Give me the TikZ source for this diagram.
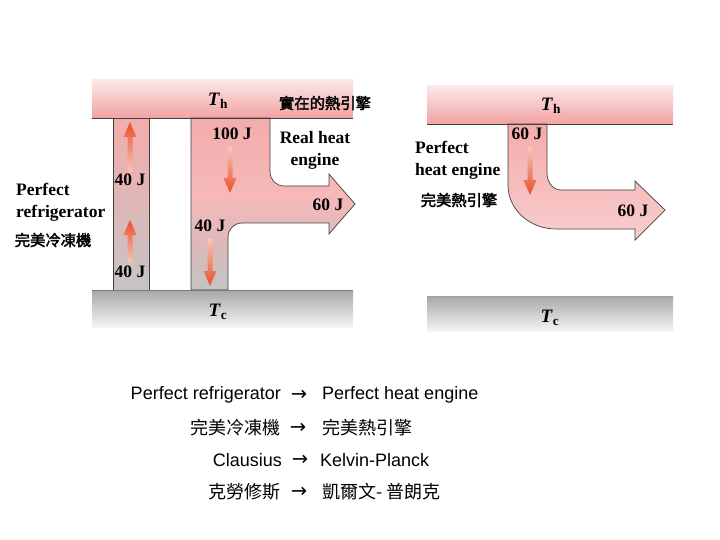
\documentclass[tikz,border=0pt]{standalone}
\usepackage{fontspec}
\setmainfont{Liberation Serif}
\newfontfamily\arialf{Liberation Sans}
\newfontfamily\cjkr{Noto Sans CJK TC}
\newfontfamily\cjkb[FakeBold=2.5]{Noto Sans CJK TC}
\newfontfamily\symf{DejaVu Sans}
\usetikzlibrary{arrows.meta}
\definecolor{hotA}{HTML}{FCE8E8}
\definecolor{hotB}{HTML}{F2A2A2}
\definecolor{coldA}{HTML}{A8A8A8}
\definecolor{coldB}{HTML}{F4F4F4}
\definecolor{pinkE}{HTML}{F4ACAC}
\definecolor{greyE}{HTML}{C4C4C4}
\definecolor{redA}{HTML}{E8502A}
\definecolor{redT}{HTML}{F8C6BA}
\definecolor{edge}{HTML}{404040}
\pgfdeclareverticalshading{enginesh}{100bp}{color(0bp)=(greyE); color(25bp)=(greyE); color(37bp)=(greyE!55!pinkE); color(52bp)=(pinkE!85!white); color(75bp)=(pinkE); color(100bp)=(pinkE)}
\pgfdeclareverticalshading{fridgesh}{100bp}{color(0bp)=(greyE); color(25bp)=(greyE); color(50bp)=(greyE!45!pinkE); color(75bp)=(pinkE); color(100bp)=(pinkE)}
\tikzset{
  lbl/.style={font=\bfseries\fontsize{17.5}{22}\selectfont, inner sep=0pt, align=center},
  tlbl/.style={font=\bfseries\fontsize{19}{22}\selectfont, inner sep=0pt},
  cjklbl/.style={font=\cjkb\fontsize{15.3}{18}\selectfont, inner sep=0pt},
  btxt/.style={font=\arialf\fontsize{18}{22}\selectfont, inner sep=0pt},
  bcjk/.style={font=\cjkr\fontsize{18}{22}\selectfont, inner sep=0pt},
  barrow/.style={font=\symf\fontsize{19.5}{22}\selectfont, inner sep=0pt},
  outline/.style={draw=edge, line width=0.7pt},
  pics/dnarrow/.style={code={\shade[top color=redT, bottom color=redA] (-2.5,0) -- (2.5,0) -- (2.5,#1-15) -- (6.5,#1-15) -- (0,#1) -- (-6.5,#1-15) -- (-2.5,#1-15) -- cycle;}},
  pics/uparrow/.style={code={\shade[top color=redA, bottom color=redT] (-2.5,0) -- (2.5,0) -- (2.5,-#1+15) -- (6.5,-#1+15) -- (0,-#1) -- (-6.5,-#1+15) -- (-2.5,-#1+15) -- cycle;}},
}
\begin{document}
\begin{tikzpicture}[x=1pt,y=-1pt]
\useasboundingbox (0,0) rectangle (720,540);
% ---------- left panel ----------
\shade[top color=hotA, bottom color=hotB] (92,80) rectangle (353,118);
\shade[top color=coldA, bottom color=coldB] (92,290) rectangle (353,327);
% refrigerator column
\shade[shading=fridgesh] (113,118) rectangle (149,290);
\draw[outline] (113,118) -- (113,290) (149,118) -- (149,290);
% real engine
\path[shading=enginesh, outline]
  (191,118) -- (270,118) -- (270,172) to[out=-90,in=180] (284,186) -- (329,186)
  -- (329,174) -- (355,204) -- (329,234) -- (329,223) -- (242,223)
  to[out=180,in=90] (228,237) -- (228,290) -- (191,290) -- cycle;
\draw[edge, line width=0.9pt] (92,118) -- (353,118);
\draw[edge!70, line width=0.9pt] (92,290) -- (353,290);
\pic at (130,172) {uparrow=50};
\pic at (130,263) {uparrow=43};
\pic at (230,147) {dnarrow=46};
\pic at (210,239) {dnarrow=47};
\node[tlbl] (thL) at (218,101) {\textit{T}\textsubscript{h}};
\node[tlbl] (tcL) at (218,312) {\textit{T}\textsubscript{c}};
\node[cjklbl] (real) at (325,103) {實在的熱引擎};
\node[lbl] (q100) at (232,134) {100 J};
\node[lbl] (realtxt) at (315,150) {Real heat\\engine};
\node[lbl] (w60L) at (328,205) {60 J};
\node[lbl] (q40c) at (210,226) {40 J};
\node[lbl] (f40a) at (130,180) {40 J};
\node[lbl] (f40b) at (130,272) {40 J};
\node[lbl, anchor=west, align=left] (pref) at (16,202) {Perfect\\refrigerator};
\node[cjklbl] (prefc) at (53,240) {完美冷凍機};
% ---------- right panel ----------
\shade[top color=hotA, bottom color=hotB] (427,86) rectangle (673,124);
\shade[top color=coldA, bottom color=coldB] (427,296) rectangle (673,331);
\path[top color=pinkE, bottom color=pinkE!60!white, outline]
  (508,124) -- (547,124) -- (547,173) to[out=-90,in=180] (561,190) -- (635,190)
  -- (635,181) -- (665,210) -- (635,240) -- (635,229) -- (556,229)
  to[out=180,in=-90] (508,185) -- cycle;
\draw[edge, line width=0.9pt] (427,124) -- (673,124);
\draw[edge!50, line width=0.6pt] (427,296) -- (673,296);
\pic at (530,147) {dnarrow=48};
\node[tlbl] (thR) at (551,106) {\textit{T}\textsubscript{h}};
\node[tlbl] (tcR) at (550,318) {\textit{T}\textsubscript{c}};
\node[lbl] (q60R) at (527,134) {60 J};
\node[lbl, anchor=west, align=left] (peng) at (415,160) {Perfect\\heat engine};
\node[cjklbl] (pengc) at (459,200) {完美熱引擎};
\node[lbl] (w60R) at (633,211) {60 J};
% ---------- bottom text ----------
\node[btxt, anchor=east] (l1) at (281,395) {Perfect refrigerator};
\node[barrow] (a1) at (299,395) {→};
\node[btxt, anchor=west] (r1) at (322,395) {Perfect heat engine};
\node[bcjk, anchor=east] (l2) at (281,428) {完美冷凍機};
\node[barrow] (a2) at (298,428) {→};
\node[bcjk, anchor=west] (r2) at (322,428) {完美熱引擎};
\node[btxt, anchor=east] (l3) at (282,460) {Clausius};
\node[barrow] (a3) at (300,460) {→};
\node[btxt, anchor=west] (r3) at (320,460) {Kelvin-Planck};
\node[bcjk, anchor=east] (l4) at (281,492) {克勞修斯};
\node[barrow] (a4) at (299,492) {→};
\node[bcjk, anchor=west] (r4) at (322,492) {凱爾文- 普朗克};
\end{tikzpicture}
\end{document}
